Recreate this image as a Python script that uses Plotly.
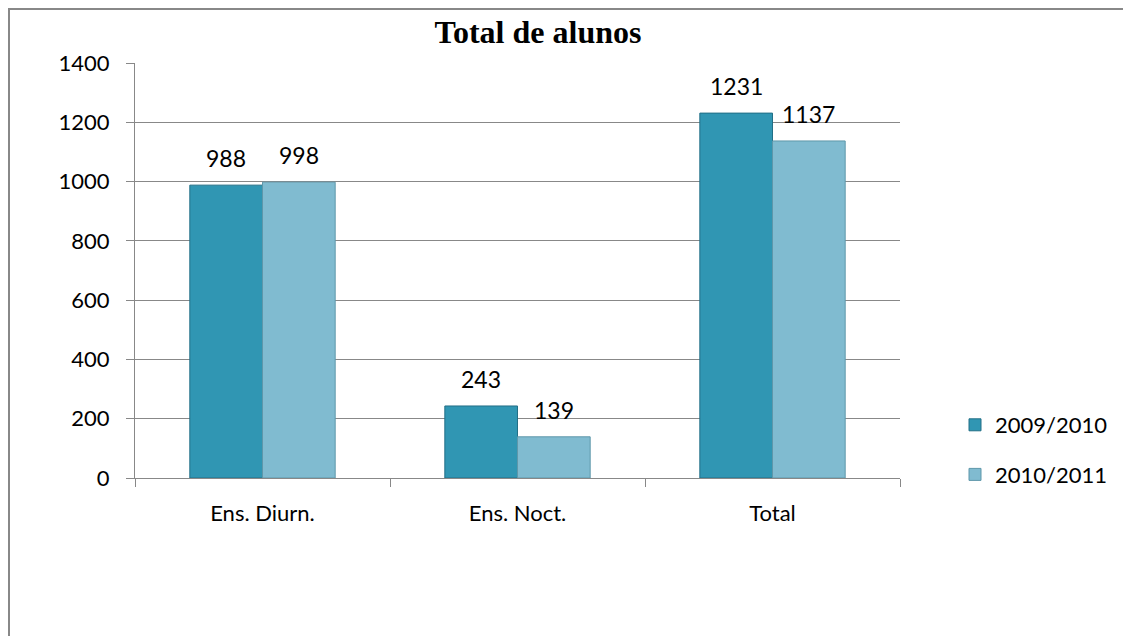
import plotly.graph_objects as go

categories = ["Ens. Diurn.", "Ens. Noct.", "Total"]
series_names = ["2009/2010", "2010/2011"]
values_2009 = [988, 243, 1231]
values_2010 = [998, 139, 1137]
y_ticks = [0, 200, 400, 600, 800, 1000, 1200, 1400]

W, H = 1131, 636
OFF = 8  # page body offset
L, T = 135 - OFF, 63 - OFF
R = W - (900 - OFF)
B = H - (478 - OFF)
pw, ph = W - L - R, H - T - B

def px_x(x):
    return (x - OFF - L) / pw

def px_y(y):
    return 1 - (y - OFF - T) / ph

def fig_x(x):
    return (x - L) / pw

def fig_y(y):
    return 1 - (y - T) / ph

font_main = "Lato, Calibri, Carlito, sans-serif"
BARGAP = 0.43
bar_px = pw / len(categories) * (1 - BARGAP) / 2

fig = go.Figure()
fig.add_trace(go.Bar(
    x=categories, y=values_2009, name=series_names[0],
    marker=dict(color="#3096B3", line=dict(color="#226F86", width=1)),
    legendgroup="a",
))
fig.add_trace(go.Bar(
    x=categories, y=values_2010, name=series_names[1],
    marker=dict(color="#80BBD0", line=dict(color="#5E97AA", width=1)),
    legendgroup="b",
))

annotations = []
for vals, sh in ((values_2009, -bar_px / 2), (values_2010, bar_px / 2)):
    for c, v in zip(categories, vals):
        annotations.append(dict(x=c, y=v, xref="x", yref="y", text=str(v),
                                showarrow=False, xanchor="center", yanchor="bottom",
                                xshift=sh, yshift=11,
                                font=dict(size=23, family=font_main, color="#000000")))

fig.update_layout(
    width=W, height=H,
    margin=dict(l=L, r=R, t=T, b=B, autoexpand=False),
    paper_bgcolor="white", plot_bgcolor="white",
    barmode="group", bargap=BARGAP, bargroupgap=0,
    font=dict(family=font_main, size=22, color="#000000"),
    title=dict(text="<b>Total de alunos</b>", x=px_x(538), xref="paper",
               y=1 - (32 - OFF) / H, yref="container", xanchor="center", yanchor="middle",
               font=dict(family="Liberation Serif, Times New Roman, serif", size=32, color="#000000")),
    legend=dict(x=px_x(955), xanchor="left", y=px_y(450), yanchor="middle",
                font=dict(size=22, family=font_main), traceorder="grouped",
                tracegroupgap=18, itemwidth=30, bgcolor="rgba(0,0,0,0)"),
    showlegend=True,
    annotations=annotations,
)
fig.update_yaxes(range=[0, 1400], tickvals=y_ticks, showgrid=True, gridcolor="#888888",
                 gridwidth=1, showline=True, linecolor="#888888", linewidth=1,
                 ticks="outside", ticklen=8, tickcolor="#888888", ticklabelstandoff=12,
                 zeroline=False, tickfont=dict(size=22))
fig.update_xaxes(showline=True, linecolor="#888888", linewidth=1, ticks="outside",
                 tickson="boundaries", ticklen=8, tickcolor="#888888",
                 ticklabelstandoff=16, tickfont=dict(size=22), showgrid=False)

fig.add_shape(type="rect", xref="paper", yref="paper",
              x0=fig_x(1), x1=fig_x(W + 50), y0=fig_y(H + 50), y1=fig_y(1),
              line=dict(color="#888888", width=2), fillcolor="rgba(0,0,0,0)", layer="below")

fig.write_html("out.html")
